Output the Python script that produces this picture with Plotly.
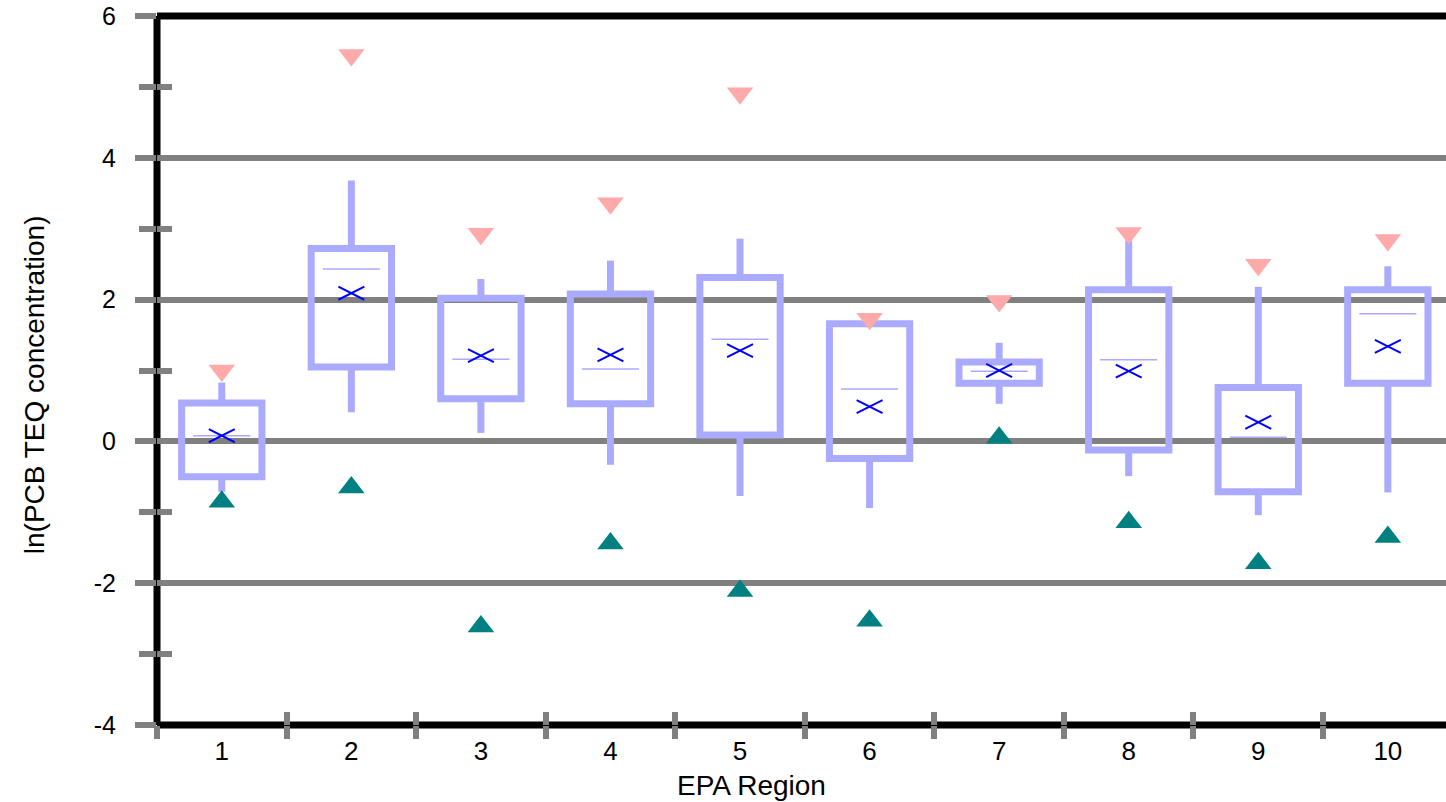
import plotly.graph_objects as go

# EPA region summary stats, ln(PCB TEQ concentration)
regions = [1, 2, 3, 4, 5, 6, 7, 8, 9, 10]
max_val = [1.00, 5.45, 2.93, 3.36, 4.91, 1.73, 1.98, 2.94, 2.49, 2.84]
whisker_hi = [0.83, 3.68, 2.29, 2.55, 2.86, 1.66, 1.39, 2.83, 2.18, 2.47]
q3 = [0.54, 2.72, 2.02, 2.08, 2.31, 1.66, 1.12, 2.14, 0.76, 2.14]
median = [0.08, 2.43, 1.16, 1.02, 1.44, 0.74, 0.99, 1.15, 0.06, 1.80]
mean = [0.08, 2.09, 1.21, 1.22, 1.28, 0.49, 1.00, 0.99, 0.27, 1.34]
q1 = [-0.50, 1.05, 0.60, 0.53, 0.09, -0.24, 0.82, -0.12, -0.71, 0.82]
whisker_lo = [-0.71, 0.41, 0.12, -0.33, -0.77, -0.94, 0.53, -0.49, -1.04, -0.72]
min_val = [-0.85, -0.65, -2.61, -1.44, -2.11, -2.53, 0.05, -1.14, -1.72, -1.35]

y_ticks = [-4, -2, 0, 2, 4, 6]
y_labels = ['-4', '-2', '0', '2', '4', '6']
x_bounds = [0.5, 1.5, 2.5, 3.5, 4.5, 5.5, 6.5, 7.5, 8.5, 9.5]

BOX_COLOR = '#AAAAFF'
GRAY = '#808080'
BOX_HW = 0.31    # box half width (x units)
MED_HW = 0.22    # median line half width
X_HW = 0.10      # mean cross half width
X_HH = 0.092     # mean cross half height
FONT = 'Liberation Sans, Arial, sans-serif'

# whiskers
wx, wy = [], []
for x, lo, a, b, hi in zip(regions, whisker_lo, q1, q3, whisker_hi):
    wx += [x, x, None, x, x, None]
    wy += [hi, b, None, a, lo, None]

# boxes
bx, by = [], []
for x, a, b in zip(regions, q1, q3):
    bx += [x - BOX_HW, x + BOX_HW, x + BOX_HW, x - BOX_HW, x - BOX_HW, x + BOX_HW, None]
    by += [a, a, b, b, a, a, None]

# medians
mx, my = [], []
for x, m in zip(regions, median):
    mx += [x - MED_HW, x + MED_HW, None]
    my += [m, m, None]

# means as flat crosses
cx, cy = [], []
for x, m in zip(regions, mean):
    cx += [x - X_HW, x + X_HW, None, x - X_HW, x + X_HW, None]
    cy += [m + X_HH, m - X_HH, None, m - X_HH, m + X_HH, None]

fig = go.Figure()
fig.add_trace(go.Scatter(x=wx, y=wy, mode='lines',
                         line=dict(color=BOX_COLOR, width=7), hoverinfo='skip'))
fig.add_trace(go.Scatter(x=bx, y=by, mode='lines',
                         line=dict(color=BOX_COLOR, width=7), hoverinfo='skip'))
fig.add_trace(go.Scatter(x=mx, y=my, mode='lines',
                         line=dict(color=BOX_COLOR, width=1.5), hoverinfo='skip'))
fig.add_trace(go.Scatter(x=cx, y=cy, mode='lines',
                         line=dict(color='#0000FF', width=2), hoverinfo='skip'))
fig.add_trace(go.Scatter(x=regions, y=max_val, mode='markers',
                         marker=dict(symbol='triangle-down', size=23, color='#FFAAAA')))
fig.add_trace(go.Scatter(x=regions, y=min_val, mode='markers',
                         marker=dict(symbol='triangle-up', size=23, color='#008080')))

# dummy traces so the overlay axes get drawn
fig.add_trace(go.Scatter(x=[None], y=[None], xaxis='x2', yaxis='y2', hoverinfo='skip'))
fig.add_trace(go.Scatter(x=[None], y=[None], xaxis='x3', yaxis='y2', hoverinfo='skip'))

x_range = [0.5, 10.449]
y_range = [-4, 6]

# axis frame centred on the plot edges (left, top, bottom)
frame = [
    dict(x0=0, x1=0, y0=0, y1=1),
    dict(x0=0, x1=1, y0=1, y1=1),
    dict(x0=0, x1=1, y0=0, y1=0),
]
for f in frame:
    fig.add_shape(type='line', xref='paper', yref='paper', layer='between',
                  line=dict(color='black', width=7), **f)

# axis titles
fig.add_annotation(text='EPA Region', xref='paper', yref='paper',
                   x=0.461, y=-0.085, xanchor='center', yanchor='middle',
                   showarrow=False, font=dict(size=28))
fig.add_annotation(text='ln(PCB TEQ concentration)', xref='paper', yref='paper',
                   x=-0.095, y=0.48, xanchor='center', yanchor='middle',
                   textangle=-90, showarrow=False, font=dict(size=28))

tick_style = {"tickwidth": 6, "tickcolor": GRAY, "showgrid": False, "zeroline": False}

fig.update_layout(
    {
        "width": 1446,
        "height": 802,
        "showlegend": False,
        "plot_bgcolor": "white",
        "paper_bgcolor": "white",
        "margin": {"l": 157, "r": 0, "t": 16, "b": 77, "autoexpand": False},
        "font": {"family": FONT, "size": 24, "color": "black"},
        "xaxis": {
            "range": x_range,
            "tickvals": regions,
            "ticktext": [str(r) for r in regions],
            "tickfont": {"size": 26},
            "ticks": "",
            "ticklabelstandoff": 8,
            "ticklabeloverflow": "allow",
            "showgrid": False,
            "zeroline": False,
            "showline": False,
        },
        "xaxis2": dict(range=x_range, overlaying="x", anchor="y", side="bottom",
                       tickvals=x_bounds, showticklabels=False,
                       ticks="outside", ticklen=13, **tick_style),
        "xaxis3": dict(range=x_range, overlaying="x", anchor="y", side="bottom",
                       tickvals=x_bounds, showticklabels=False,
                       ticks="inside", ticklen=13, **tick_style),
        "yaxis": {
            "range": y_range,
            "tickvals": y_ticks,
            "ticktext": y_labels,
            "tickfont": {"size": 25},
            "ticks": "outside",
            "ticklen": 21,
            "tickwidth": 6,
            "tickcolor": GRAY,
            "ticklabelstandoff": 14,
            "ticklabeloverflow": "allow",
            "minor": {"dtick": 1, "ticks": "outside", "ticklen": 17,
                      "tickwidth": 6, "tickcolor": GRAY, "showgrid": False},
            "showgrid": True,
            "gridcolor": GRAY,
            "gridwidth": 6,
            "zeroline": False,
            "showline": False,
        },
        "yaxis2": {
            "range": y_range,
            "overlaying": "y",
            "anchor": "x",
            "side": "left",
            "tickvals": y_ticks,
            "showticklabels": False,
            "ticks": "inside",
            "ticklen": 21,
            "minor": {"dtick": 1, "ticks": "inside", "ticklen": 15,
                      "tickwidth": 6, "tickcolor": GRAY, "showgrid": False},
            **tick_style,
        },
    }
)

# drop the default page margin so the figure sits at the window corner
fig.write_html("out.html", config={"displayModeBar": False},
               post_script="document.body.style.margin = '0';")
